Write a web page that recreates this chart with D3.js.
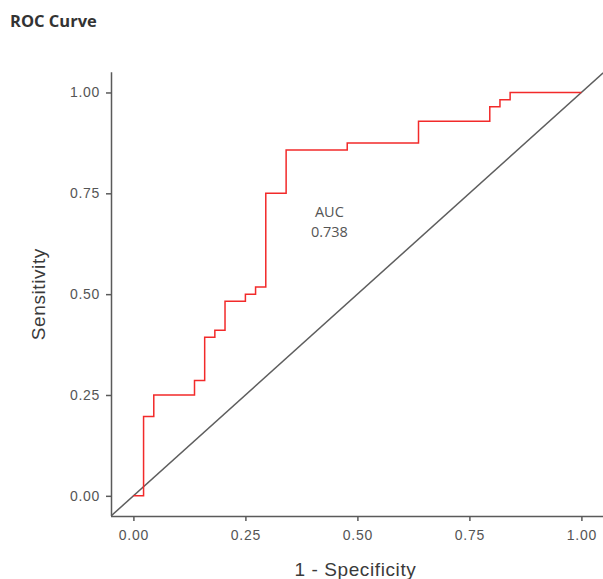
<!DOCTYPE html>
<html>
<head>
<meta charset="utf-8">
<script src="https://cdn.jsdelivr.net/npm/d3@7"></script>
<style>
  html, body { margin: 0; padding: 0; background: #fff; }
  svg { display: block; }
</style>
</head>
<body>
<svg id="chart" width="603" height="579"></svg>
<script>
// ---- data ----
const fpr = [0, 0.0227, 0.0455, 0.1364, 0.1591, 0.1818, 0.2045, 0.25, 0.2727, 0.2955, 0.3409, 0.4773, 0.6364, 0.7955, 0.8182, 0.8409, 1.0];
const tpr = [0, 0.1964, 0.25, 0.2857, 0.3929, 0.4107, 0.4821, 0.5, 0.5179, 0.75, 0.8571, 0.875, 0.9286, 0.9643, 0.9821, 1.0, 1.0];
const tickValues = [0, 0.25, 0.5, 0.75, 1.0];
const tickLabels = ["0.00", "0.25", "0.50", "0.75", "1.00"];
const aucLabel = ["AUC", "0.738"];
const aucPos = [0.4375, 0.68];
const titleText = "ROC Curve";
const xTitle = "1 - Specificity";
const yTitle = "Sensitivity";

const svg = d3.select("#chart");
const pLeft = 111, pRight = 603.8, pTop = 72.3, pBottom = 516;

const x = d3.scaleLinear().domain([-0.05, 1.05]).range([pLeft, pRight]);
const y = d3.scaleLinear().domain([-0.05, 1.05]).range([pBottom, pTop]);

const axisColor = "#5a5a5a";
const tickFont = "'Liberation Sans', Arial, sans-serif";

// title
svg.append("text")
  .attr("x", 10).attr("y", 27)
  .attr("font-family", "'Open Sans', 'Noto Sans', sans-serif")
  .attr("font-weight", "bold")
  .attr("font-size", 16.5)
  .attr("fill", "#333")
  .text(titleText);

// clip for the panel
svg.append("clipPath").attr("id", "panel")
  .append("rect").attr("x", pLeft).attr("y", pTop).attr("width", pRight - pLeft).attr("height", pBottom - pTop);

// diagonal reference line
svg.append("line")
  .attr("clip-path", "url(#panel)")
  .attr("x1", x(-0.05)).attr("y1", y(-0.05))
  .attr("x2", x(1.05)).attr("y2", y(1.05))
  .attr("stroke", "#5e5e5e").attr("stroke-width", 1.5);

// ROC step curve
const pts = fpr.map((d, i) => [d, tpr[i]]);
const line = d3.line().x(d => x(d[0])).y(d => y(d[1])).curve(d3.curveStepAfter);
svg.append("path")
  .attr("d", line(pts))
  .attr("fill", "none")
  .attr("stroke", "#f22a2a")
  .attr("stroke-width", 1.5);

// AUC annotation
const ann = svg.append("text")
  .attr("text-anchor", "middle")
  .attr("font-family", "'Open Sans', 'Noto Sans', sans-serif")
  .attr("font-size", 14.5)
  .attr("fill", "#555");
ann.append("tspan").attr("x", x(aucPos[0])).attr("y", 216.5).text(aucLabel[0]);
ann.append("tspan").attr("x", x(aucPos[0])).attr("y", 237).text(aucLabel[1]);

// axes
const xAxis = d3.axisBottom(x).tickValues(tickValues).tickFormat((d, i) => tickLabels[i]).tickSize(5).tickPadding(9).tickSizeOuter(0);
const yAxis = d3.axisLeft(y).tickValues(tickValues).tickFormat((d, i) => tickLabels[i]).tickSize(5).tickPadding(6).tickSizeOuter(0);

const gx = svg.append("g").attr("transform", `translate(0,${pBottom})`).call(xAxis);
const gy = svg.append("g").attr("transform", `translate(${pLeft},0)`).call(yAxis);

[gx, gy].forEach(g => {
  g.select(".domain").attr("stroke", axisColor).attr("stroke-width", 1.5);
  g.selectAll(".tick line").attr("stroke", axisColor).attr("stroke-width", 1.5);
  g.selectAll(".tick text")
    .attr("font-family", tickFont)
    .attr("font-size", 14)
    .attr("letter-spacing", "0.7px")
    .attr("fill", "#555");
});
gx.select(".domain").attr("d", `M${pLeft},0.5H${pRight}`);
gy.select(".domain").attr("d", `M0.5,${pTop}V${pBottom}`);

// axis titles
svg.append("text")
  .attr("x", (pLeft + pRight) / 2 - 2).attr("y", 576)
  .attr("text-anchor", "middle")
  .attr("font-family", tickFont)
  .attr("font-size", 19)
  .attr("letter-spacing", "0.6px")
  .attr("fill", "#3a3a3a")
  .text(xTitle);

svg.append("text")
  .attr("transform", `translate(45,${(pTop + pBottom) / 2}) rotate(-90)`)
  .attr("text-anchor", "middle")
  .attr("font-family", tickFont)
  .attr("font-size", 19)
  .attr("letter-spacing", "0.6px")
  .attr("fill", "#3a3a3a")
  .text(yTitle);
</script>
</body>
</html>
